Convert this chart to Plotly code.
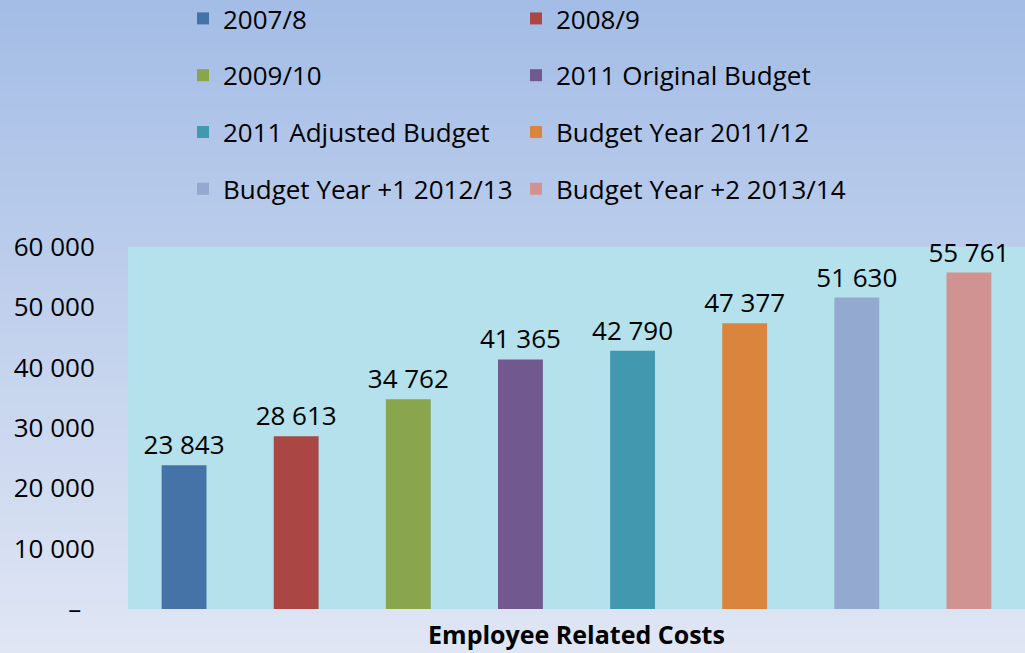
import base64
import struct
import zlib

import plotly.graph_objects as go

category = ["Employee Related Costs"]
series_names = [
    "2007/8",
    "2008/9",
    "2009/10",
    "2011 Original Budget",
    "2011 Adjusted Budget",
    "Budget Year 2011/12",
    "Budget Year +1 2012/13",
    "Budget Year +2 2013/14",
]
series_values = [23843, 28613, 34762, 41365, 42790, 47377, 51630, 55761]
series_colors = [
    "#4572A7", "#AA4643", "#89A54E", "#71588F",
    "#4198AF", "#DB843D", "#93A9CF", "#D19392",
]
tick_values = [0, 10000, 20000, 30000, 40000, 50000, 60000]
tick_labels = ["–\u00a0\u00a0", "10 000", "20 000", "30 000", "40 000", "50 000", "60 000"]

W, H = 1025, 653
ML, MR, MT, MB = 128, 0, 247, 44
FONT = "Open Sans"
plot_w = W - ML - MR
plot_h = H - MT - MB


def px_x(px):
    # page pixel -> paper x
    return (px - ML) / plot_w


def px_y(px):
    # page pixel (from top) -> paper y
    return (H - MB - px) / plot_h


def gradient_png(top, bottom, height=128):
    # 1 px wide vertical gradient, stretched over the page
    rows = b""
    for i in range(height):
        t = i / (height - 1)
        px = bytes(int(round(a + (b - a) * t)) for a, b in zip(top, bottom))
        rows += b"\x00" + px

    def chunk(tag, data):
        c = struct.pack(">I", len(data)) + tag + data
        return c + struct.pack(">I", zlib.crc32(tag + data) & 0xFFFFFFFF)

    png = b"\x89PNG\r\n\x1a\n"
    png += chunk(b"IHDR", struct.pack(">IIBBBBB", 1, height, 8, 2, 0, 0, 0))
    png += chunk(b"IDAT", zlib.compress(rows))
    png += chunk(b"IEND", b"")
    return "data:image/png;base64," + base64.b64encode(png).decode()


fig = go.Figure()
for i, (name, val, col) in enumerate(zip(series_names, series_values, series_colors)):
    fig.add_trace(
        go.Bar(
            x=category,
            y=[val],
            name=name,
            marker=dict(color=col, line=dict(width=0)),
            texttemplate="%{y:,d}",
            textposition="outside",
            constraintext="none",
            textfont=dict(size=26, color="black", family=FONT),
            cliponaxis=False,
            legend="legend" if i % 2 == 0 else "legend2",
            legendgroup=name,
        )
    )

legend_common = dict(
    yanchor="top",
    y=px_y(-5),
    bgcolor="rgba(0,0,0,0)",
    font=dict(size=26, color="black", family=FONT),
    tracegroupgap=20,
    itemclick=False,
)

fig.update_layout(
    width=W,
    height=H,
    margin=dict(l=ML, r=MR, t=MT, b=MB, pad=0, autoexpand=False),
    separators=". ",
    font=dict(family=FONT, color="black"),
    paper_bgcolor="#c2cfec",
    plot_bgcolor="rgba(0,0,0,0)",
    barmode="group",
    bargap=0,
    bargroupgap=0.6,
    showlegend=True,
    legend=dict(x=px_x(183), xanchor="left", **legend_common),
    legend2=dict(x=px_x(516), xanchor="left", **legend_common),
    xaxis=dict(
        showticklabels=False,
        showline=False,
        showgrid=False,
        zeroline=False,
        title=dict(
            text="<b>Employee Related Costs</b>",
            font=dict(size=25, color="black", family=FONT),
            standoff=17,
        ),
    ),
    yaxis=dict(
        range=[0, 60000],
        tickvals=tick_values,
        ticktext=tick_labels,
        tickfont=dict(size=26, color="black", family=FONT),
        ticks="outside",
        ticklen=27,
        tickcolor="rgba(0,0,0,0)",
        showgrid=False,
        zeroline=False,
        showline=False,
    ),
    images=[
        dict(
            source=gradient_png((164, 189, 230), (224, 230, 244)),
            xref="paper",
            yref="paper",
            x=px_x(0),
            y=px_y(0),
            sizex=W / plot_w,
            sizey=H / plot_h,
            xanchor="left",
            yanchor="top",
            sizing="stretch",
            layer="below",
        )
    ],
    shapes=[
        # watery plot area behind the bars
        dict(
            type="rect",
            xref="paper",
            yref="paper",
            x0=0,
            x1=1,
            y0=0,
            y1=1,
            fillcolor="#b4e1eb",
            line=dict(width=0),
            layer="below",
        )
    ],
)

fig.write_html(
    "out.html",
    config={"displayModeBar": False},
    post_script="document.body.style.margin='0';",
)
